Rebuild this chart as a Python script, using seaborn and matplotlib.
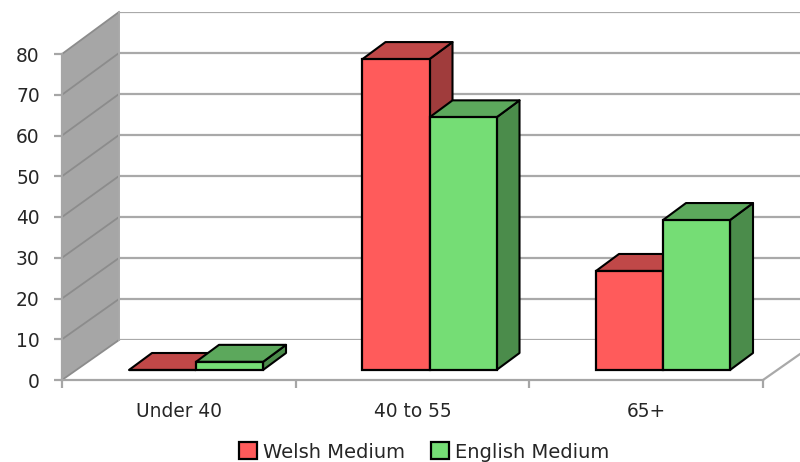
import matplotlib
matplotlib.use("Agg")
import matplotlib.pyplot as plt
import pandas as pd
import seaborn as sns
from matplotlib.patches import Polygon
from matplotlib.transforms import IdentityTransform

# ===================== Data =====================
categories = ["Under 40", "40 to 55", "65+"]
welsh_medium = [0, 76.3, 24.3]
english_medium = [2, 62, 36.8]
value_ticks = [0, 10, 20, 30, 40, 50, 60, 70, 80]

df = pd.DataFrame({
    "group": categories * 2,
    "value": welsh_medium + english_medium,
    "medium": ["Welsh Medium"] * 3 + ["English Medium"] * 3,
})

# ===================== Colours =====================
palette = {"Welsh Medium": "#FF5B5B", "English Medium": "#75DD75"}
top_colors = ["#C04848", "#5CA85C"]
side_colors = ["#A03C3C", "#4B8C4B"]
wall_color = "#A6A6A6"
wall_grid = "#8C8C8C"
grid_color = "#A9A9A9"
text_color = "#262626"

W, H = 800, 462
plt.rcParams["font.family"] = ["DejaVu Sans"]
fig = plt.figure(figsize=(W / 100, H / 100), dpi=100)


def rect(left, top, right, bottom):
    return [left / W, 1 - bottom / H, (right - left) / W, (bottom - top) / H]


def add_face(ax, pts, color, zorder, edge="none", lw=0):
    ax.add_patch(Polygon(pts, closed=True, facecolor=color, edgecolor=edge, linewidth=lw,
                         joinstyle="round", transform=IdentityTransform(), clip_on=False, zorder=zorder))


# ===================== Back plane =====================
back = fig.add_axes(rect(119, 12, 820, 340))
back.set_xlim(0, 1)
back.set_ylim(0, 80)
back.set_axis_off()
back.hlines(value_ticks, 0, 1, color=grid_color, lw=1.6)

# ===================== Front plane with axis and labels =====================
wall = fig.add_axes(rect(62, 54, 763, 380))
wall.set_xlim(0, 3)
wall.set_ylim(0, 80)
wall.patch.set_visible(False)
for s in ["top", "right"]:
    wall.spines[s].set_visible(False)
for s in ["left", "bottom"]:
    wall.spines[s].set_color(wall_color)
    wall.spines[s].set_linewidth(1.6)
wall.set_yticks(value_ticks)
wall.set_xticks([0, 1, 2, 3])
wall.set_xticklabels([])
wall.set_xticks([0.5, 1.5, 2.5], labels=categories, minor=True)
wall.tick_params(axis="both", which="major", color=wall_color, width=1.6, length=6)
wall.tick_params(axis="y", labelsize=13.4, labelcolor=text_color, pad=10)
wall.tick_params(axis="x", which="minor", length=0, labelsize=13.4, labelcolor=text_color, pad=16)

# Side wall joins the two planes
front_px = wall.transData.transform
back_px = back.transData.transform
add_face(wall, [front_px((0, 0)), back_px((0, 0)), back_px((0, 80)), front_px((0, 80))], wall_color, 0.1)
for v in value_ticks:
    a, b = front_px((0, v)), back_px((0, v))
    wall.plot([a[0], b[0]], [a[1], b[1]], color=wall_grid, lw=1.3,
              transform=IdentityTransform(), clip_on=False, zorder=0.2)
a, b = back_px((0, 0)), back_px((0, 80))
wall.plot([a[0], b[0]], [a[1], b[1]], color=grid_color, lw=1.4,
          transform=IdentityTransform(), clip_on=False, zorder=0.2)
a = front_px((3, 0))
wall.plot([a[0], a[0] + 57], [a[1], a[1] + 40], color=grid_color, lw=1.6,
          transform=IdentityTransform(), clip_on=False, zorder=0.2)

# ===================== Bars =====================
ax = fig.add_axes(rect(79.25, 44, 779.75, 370))
ax.patch.set_visible(False)
sns.barplot(data=df, x="group", y="value", hue="medium", order=categories, palette=palette,
            saturation=1, width=0.574, gap=0, edgecolor="black", linewidth=1.6, ax=ax)
ax.set_xlim(-0.5, 2.5)
ax.set_ylim(0, 80)
ax.set_axis_off()

bar_dx, bar_dy = 23, 17
for i, container in enumerate(ax.containers):
    for bar in container:
        bx0, by0 = ax.transData.transform((bar.get_x(), 0))
        bx1, by1 = ax.transData.transform((bar.get_x() + bar.get_width(), bar.get_height()))
        bar.set_clip_on(False)
        add_face(ax, [(bx1, by0), (bx1 + bar_dx, by0 + bar_dy), (bx1 + bar_dx, by1 + bar_dy), (bx1, by1)],
                 side_colors[i], 0.5 + i * 0.1, "black", 1.5)
        add_face(ax, [(bx0, by1), (bx1, by1), (bx1 + bar_dx, by1 + bar_dy), (bx0 + bar_dx, by1 + bar_dy)],
                 top_colors[i], 0.5 + i * 0.1, "black", 1.5)

# ===================== Legend =====================
sns.move_legend(ax, "center", bbox_to_anchor=(424 / W, 1 - 452 / H), bbox_transform=fig.transFigure,
                ncol=2, frameon=False, title=None, fontsize=14, labelcolor=text_color,
                handlelength=0.95, handleheight=0.95, handletextpad=0.3, columnspacing=1.3)

fig.savefig("out.png", dpi=100, facecolor="white")
plt.close(fig)
